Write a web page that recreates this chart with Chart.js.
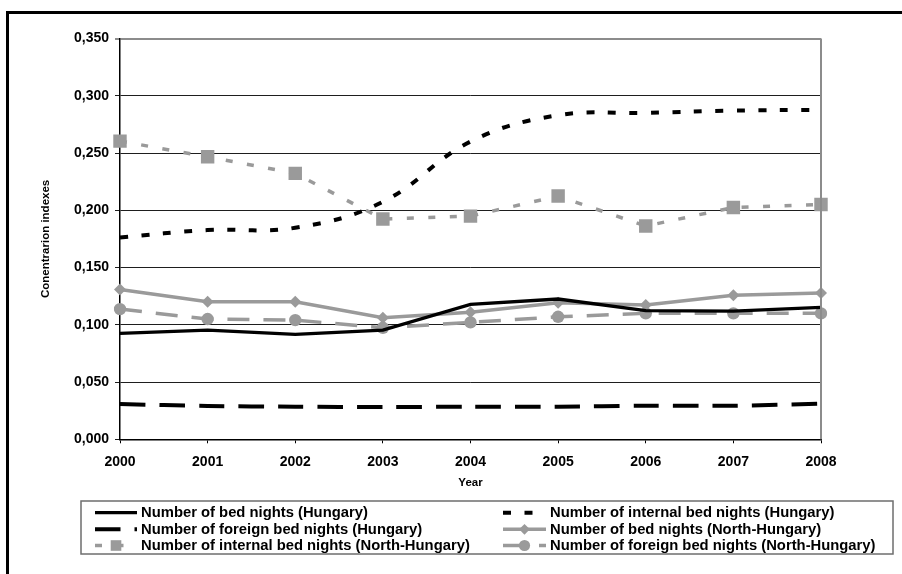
<!DOCTYPE html>
<html>
<head>
<meta charset="utf-8">
<script src="https://cdn.jsdelivr.net/npm/chart.js@4/dist/chart.umd.min.js"></script>
<style>
  html, body { margin: 0; padding: 0; background: #ffffff; }
  canvas { display: block; }
</style>
</head>
<body>
<canvas id="chart" width="902" height="574"></canvas>
<script>
// Concentration indexes of bed nights, 2000-2008
const years = ['2000', '2001', '2002', '2003', '2004', '2005', '2006', '2007', '2008'];

const bedNightsHungary       = [0.0925, 0.0954, 0.0917, 0.0954, 0.1178, 0.1225, 0.1123, 0.1120, 0.1152];
const internalNightsHungary  = [0.1763, 0.1827, 0.1847, 0.2074, 0.2600, 0.2830, 0.2850, 0.2870, 0.2877];
const foreignNightsHungary   = [0.0308, 0.0291, 0.0285, 0.0282, 0.0285, 0.0285, 0.0293, 0.0293, 0.0311];
const bedNightsNorth         = [0.1309, 0.1201, 0.1201, 0.1062, 0.1109, 0.1193, 0.1172, 0.1257, 0.1277];
const internalNightsNorth    = [0.2604, 0.2467, 0.2322, 0.1923, 0.1949, 0.2124, 0.1862, 0.2025, 0.2051];
const foreignNightsNorth     = [0.1137, 0.1050, 0.1041, 0.0974, 0.1021, 0.1070, 0.1100, 0.1100, 0.1100];

const yTickLabels = ['0,000', '0,050', '0,100', '0,150', '0,200', '0,250', '0,300', '0,350'];

const seriesNames = [
  'Number of bed nights (Hungary)',
  'Number of internal bed nights (Hungary)',
  'Number of foreign bed nights (Hungary)',
  'Number of bed nights (North-Hungary)',
  'Number of internal bed nights (North-Hungary)',
  'Number of foreign bed nights (North-Hungary)'
];

const FONT = '"Liberation Sans", Arial, Helvetica, sans-serif';
const GREY = '#9a9a9a';

const datasets = [
  { label: seriesNames[0], data: bedNightsHungary, borderColor: '#000000', borderWidth: 3.3,
    pointRadius: 0, tension: 0 },
  { label: seriesNames[1], data: internalNightsHungary, borderColor: '#000000', borderWidth: 4,
    borderDash: [8, 13.5], pointRadius: 0, tension: 0.4 },
  { label: seriesNames[2], data: foreignNightsHungary, borderColor: '#000000', borderWidth: 4,
    borderDash: [25.5, 14], pointRadius: 0, tension: 0.3 },
  { label: seriesNames[3], data: bedNightsNorth, borderColor: GREY, backgroundColor: GREY, borderWidth: 3.5,
    pointStyle: 'rectRot', pointRadius: 6, pointBorderWidth: 0, tension: 0 },
  { label: seriesNames[4], data: internalNightsNorth, borderColor: GREY, backgroundColor: GREY, borderWidth: 3.5,
    borderDash: [7, 14.5], pointStyle: 'rect', pointRadius: 9.5, pointBorderWidth: 0, tension: 0 },
  { label: seriesNames[5], data: foreignNightsNorth, borderColor: GREY, backgroundColor: GREY, borderWidth: 3.5,
    borderDash: [22, 14], pointStyle: 'circle', pointRadius: 6.2, pointBorderWidth: 0, tension: 0 }
];

// Frame, plot-area border and the boxed two-column legend
const decorations = {
  id: 'decorations',
  afterDraw(chart) {
    const ctx = chart.ctx;
    const area = chart.chartArea;
    ctx.save();

    // plot-area border (top and right)
    ctx.strokeStyle = '#8c8c8c';
    ctx.lineWidth = 2;
    ctx.beginPath();
    ctx.moveTo(area.right, area.top);
    ctx.lineTo(area.right, area.bottom);
    ctx.stroke();

    // outer frame
    ctx.fillStyle = '#000000';
    ctx.fillRect(6, 11, 896, 3);
    ctx.fillRect(6, 11, 3, 563);

    // legend box
    ctx.strokeStyle = '#6e6e6e';
    ctx.lineWidth = 1.5;
    ctx.strokeRect(81, 501, 812, 53);

    const cols = [{ x1: 95, x2: 137, tx: 141 }, { x1: 503, x2: 546, tx: 550 }];
    const rows = [512.7, 529.3, 545.5];
    ctx.font = 'bold 14.8px ' + FONT;
    ctx.textBaseline = 'middle';
    ctx.textAlign = 'left';

    chart.data.datasets.forEach((ds, i) => {
      const col = cols[i % 2];
      const y = rows[Math.floor(i / 2)];
      ctx.save();
      ctx.strokeStyle = ds.borderColor;
      ctx.lineWidth = ds.borderWidth;
      ctx.setLineDash(ds.borderDash || []);
      ctx.lineCap = 'butt';
      ctx.beginPath();
      ctx.moveTo(col.x1, y);
      ctx.lineTo(col.x2, y);
      ctx.stroke();
      ctx.restore();
      if (ds.pointRadius > 0) {
        ctx.save();
        ctx.fillStyle = ds.backgroundColor;
        ctx.strokeStyle = ds.backgroundColor;
        Chart.helpers.drawPoint(ctx, {
          pointStyle: ds.pointStyle, rotation: 0,
          radius: ds.pointStyle === 'rect' ? 7.5 : ds.pointRadius * 0.9, borderWidth: 0
        }, (col.x1 + col.x2) / 2, y);
        ctx.restore();
      }
      ctx.fillStyle = '#000000';
      ctx.fillText(ds.label, col.tx, y + 0.5);
    });
    ctx.restore();
  }
};

new Chart(document.getElementById('chart'), {
  type: 'line',
  data: { labels: years, datasets },
  plugins: [decorations],
  options: {
    responsive: false,
    animation: false,
    events: [],
    layout: { padding: { left: 0, top: 38.5, right: 81, bottom: 84 } },
    plugins: {
      legend: { display: false },
      title: { display: false },
      tooltip: { enabled: false }
    },
    scales: {
      x: {
        type: 'category',
        offset: false,
        afterFit(scale) { scale.height = 50.7; },
        grid: { drawOnChartArea: false, drawTicks: true, tickLength: 4, color: '#000000', offset: false },
        border: { color: '#000000', width: 1.5 },
        ticks: { color: '#000000', padding: 10, maxRotation: 0,
                 font: { family: FONT, size: 14, weight: 'bold' } },
        title: { display: true, text: 'Year', color: '#000000', padding: { top: 0, bottom: 0 },
                 font: { family: FONT, size: 11.5, weight: 'bold' } }
      },
      y: {
        min: 0,
        max: 0.35,
        afterFit(scale) { scale.width = 120; },
        ticks: {
          stepSize: 0.05,
          color: '#000000',
          padding: 6,
          font: { family: FONT, size: 14, weight: 'bold' },
          callback: (v, i) => yTickLabels[i]
        },
        grid: {
          tickLength: 5,
          color: ctx => (ctx.tick && Math.abs(ctx.tick.value - 0.35) < 1e-9) ? '#8c8c8c' : '#1e1e1e',
          lineWidth: ctx => (ctx.tick && Math.abs(ctx.tick.value - 0.35) < 1e-9) ? 2 : 1
        },
        border: { color: '#000000', width: 1.5 },
        title: { display: true, text: 'Conentrarion indexes', color: '#000000',
                 padding: { top: 39, bottom: 0 },
                 font: { family: FONT, size: 11.5, weight: 'bold' } }
      }
    }
  }
});
</script>
</body>
</html>
